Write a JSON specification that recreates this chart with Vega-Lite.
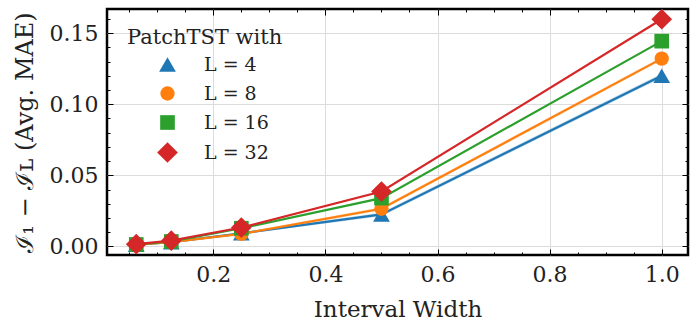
{
  "$schema": "https://vega.github.io/schema/vega-lite/v6.json",
  "autosize": "none",
  "width": 581,
  "height": 246,
  "padding": {"left": 107, "top": 9, "right": 9, "bottom": 75},
  "background": "white",
  "config": {
    "view": {"stroke": "black", "strokeWidth": 2.5},
    "font": "DejaVu Serif",
    "axis": {"labelFont": "DejaVu Serif", "titleFont": "DejaVu Serif", "labelColor": "#222", "titleColor": "#222", "titleFontWeight": "normal", "tickColor": "black", "tickWidth": 1, "domain": false, "grid": false},
    "legend": {"labelFont": "DejaVu Serif", "titleFont": "DejaVu Serif"}
  },
  "data": {"values": [
    {"s": "L = 4", "w": 0.0625, "v": 0.0012, "lo": 0.0008, "hi": 0.0016},
    {"s": "L = 4", "w": 0.125, "v": 0.0030, "lo": 0.0025, "hi": 0.0035},
    {"s": "L = 4", "w": 0.25, "v": 0.0092, "lo": 0.0084, "hi": 0.0100},
    {"s": "L = 4", "w": 0.5, "v": 0.0225, "lo": 0.0212, "hi": 0.0238},
    {"s": "L = 4", "w": 1.0, "v": 0.1200, "lo": 0.1185, "hi": 0.1215},
    {"s": "L = 8", "w": 0.0625, "v": 0.0012, "lo": 0.0009, "hi": 0.0015},
    {"s": "L = 8", "w": 0.125, "v": 0.0030, "lo": 0.0026, "hi": 0.0034},
    {"s": "L = 8", "w": 0.25, "v": 0.0088, "lo": 0.0081, "hi": 0.0095},
    {"s": "L = 8", "w": 0.5, "v": 0.0265, "lo": 0.0253, "hi": 0.0277},
    {"s": "L = 8", "w": 1.0, "v": 0.1320, "lo": 0.1308, "hi": 0.1332},
    {"s": "L = 16", "w": 0.0625, "v": 0.0014, "lo": 0.0012, "hi": 0.0016},
    {"s": "L = 16", "w": 0.125, "v": 0.0035, "lo": 0.0032, "hi": 0.0038},
    {"s": "L = 16", "w": 0.25, "v": 0.0128, "lo": 0.0124, "hi": 0.0132},
    {"s": "L = 16", "w": 0.5, "v": 0.0340, "lo": 0.0335, "hi": 0.0345},
    {"s": "L = 16", "w": 1.0, "v": 0.1443, "lo": 0.1438, "hi": 0.1448},
    {"s": "L = 32", "w": 0.0625, "v": 0.0016, "lo": 0.0014, "hi": 0.0018},
    {"s": "L = 32", "w": 0.125, "v": 0.0041, "lo": 0.0038, "hi": 0.0044},
    {"s": "L = 32", "w": 0.25, "v": 0.0133, "lo": 0.0129, "hi": 0.0137},
    {"s": "L = 32", "w": 0.5, "v": 0.0386, "lo": 0.0381, "hi": 0.0391},
    {"s": "L = 32", "w": 1.0, "v": 0.1597, "lo": 0.1592, "hi": 0.1602}
  ]},
  "resolve": {"axis": {"x": "independent", "y": "independent"}},
  "layer": [
    {
      "mark": {"type": "area", "opacity": 0.25},
      "encoding": {
        "x": {"field": "w", "type": "quantitative", "scale": {"domain": [0.0103, 1.0469], "nice": false, "zero": false},
          "axis": {"orient": "bottom", "title": "Interval Width", "values": [0.2, 0.4, 0.6, 0.8, 1.0], "format": ".1f", "grid": true, "gridColor": "#dcdcdc", "gridWidth": 1, "ticks": false, "labelFontSize": 22, "labelPadding": 9, "titleFontSize": 23, "titlePadding": 13}},
        "y": {"field": "lo", "type": "quantitative", "scale": {"domain": [-0.006, 0.1669], "nice": false, "zero": false},
          "axis": {"orient": "left", "title": "ℐ₁ − ℐʟ (Avg. MAE)", "values": [0, 0.05, 0.1, 0.15], "format": ".2f", "grid": true, "gridColor": "#dcdcdc", "gridWidth": 1, "ticks": false, "labelFontSize": 22, "labelPadding": 9, "titleFontSize": 24, "titlePadding": 12}},
        "y2": {"field": "hi"},
        "color": {"field": "s", "type": "nominal", "title": "PatchTST with", "scale": {"domain": ["L = 4", "L = 8", "L = 16", "L = 32"], "range": ["#1f77b4", "#ff7f0e", "#2ca02c", "#d62728"]}}
      }
    },
    {
      "mark": {"type": "line", "strokeWidth": 2.2},
      "encoding": {
        "x": {"field": "w", "type": "quantitative", "axis": {"orient": "bottom", "title": null, "labels": false, "values": [0.2, 0.4, 0.6, 0.8, 1.0], "tickSize": -6}},
        "y": {"field": "v", "type": "quantitative", "axis": {"orient": "left", "title": null, "labels": false, "values": [0, 0.05, 0.1, 0.15], "tickSize": -6}},
        "color": {"field": "s", "type": "nominal", "title": "PatchTST with"}
      }
    },
    {
      "mark": {"type": "point", "opacity": 0},
      "encoding": {
        "x": {"field": "w", "type": "quantitative", "axis": {"orient": "bottom", "title": null, "labels": false, "values": [0.05, 0.1, 0.15, 0.25, 0.3, 0.35, 0.45, 0.5, 0.55, 0.65, 0.7, 0.75, 0.85, 0.9, 0.95], "tickSize": -3}},
        "y": {"field": "v", "type": "quantitative", "axis": {"orient": "left", "title": null, "labels": false, "values": [0.01, 0.02, 0.03, 0.04, 0.06, 0.07, 0.08, 0.09, 0.11, 0.12, 0.13, 0.14, 0.16], "tickSize": -3}}
      }
    },
    {
      "mark": {"type": "point", "opacity": 0},
      "encoding": {
        "x": {"field": "w", "type": "quantitative", "axis": {"orient": "top", "title": null, "labels": false, "values": [0.05, 0.1, 0.15, 0.25, 0.3, 0.35, 0.45, 0.5, 0.55, 0.65, 0.7, 0.75, 0.85, 0.9, 0.95], "tickSize": -3}},
        "y": {"field": "v", "type": "quantitative", "axis": {"orient": "right", "title": null, "labels": false, "values": [0.01, 0.02, 0.03, 0.04, 0.06, 0.07, 0.08, 0.09, 0.11, 0.12, 0.13, 0.14, 0.16], "tickSize": -3}}
      }
    },
    {
      "mark": {"type": "point", "filled": true, "opacity": 1, "strokeWidth": 0},
      "encoding": {
        "x": {"field": "w", "type": "quantitative", "axis": {"orient": "top", "title": null, "labels": false, "values": [0.2, 0.4, 0.6, 0.8, 1.0], "tickSize": -6}},
        "y": {"field": "v", "type": "quantitative", "axis": {"orient": "right", "title": null, "labels": false, "values": [0, 0.05, 0.1, 0.15], "tickSize": -6}},
        "color": {"field": "s", "type": "nominal", "title": "PatchTST with",
          "legend": {"orient": "none", "legendX": 20, "legendY": 18, "titleFontSize": 21, "titleFontWeight": "normal", "titleColor": "#222", "labelFontSize": 19, "labelColor": "#222", "symbolOffset": 30, "labelOffset": 26, "rowPadding": 9, "titlePadding": 7, "symbolStrokeWidth": 0, "symbolOpacity": 1,
            "encode": {"symbols": {"update": {"opacity": {"value": 1}, "fillOpacity": {"value": 1}}}}}},
        "shape": {"field": "s", "type": "nominal", "title": "PatchTST with", "scale": {"domain": ["L = 4", "L = 8", "L = 16", "L = 32"], "range": ["triangle-up", "circle", "square", "diamond"]}},
        "size": {"field": "s", "type": "nominal", "title": "PatchTST with", "scale": {"type": "ordinal", "domain": ["L = 4", "L = 8", "L = 16", "L = 32"], "range": [280, 205, 215, 430]}}
      }
    }
  ]
}
